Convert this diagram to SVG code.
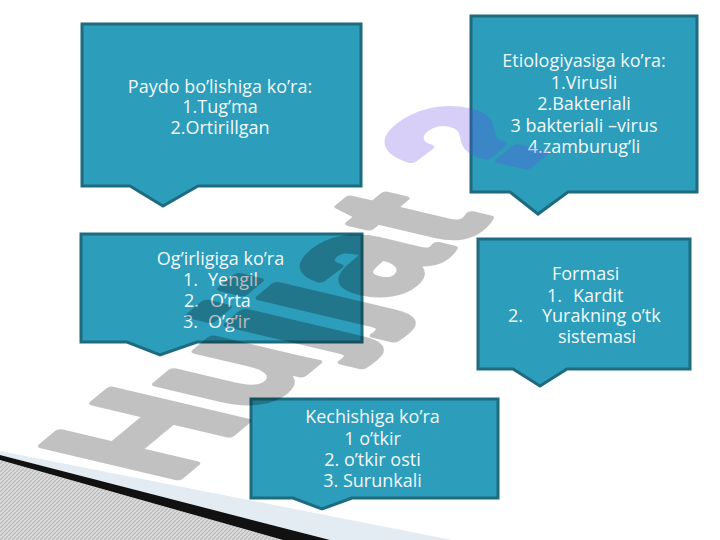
<svg xmlns="http://www.w3.org/2000/svg" width="720" height="540" viewBox="0 0 720 540">
  <defs>
    <pattern id="hatch" patternUnits="userSpaceOnUse" width="4" height="4">
      <rect width="4" height="4" fill="#dadada"/>
      <path d="M-1,5 L5,-1" stroke="#b9b9b9" stroke-width="1.2"/>
    </pattern>
    <style>
      .box { fill: #2c9dba; stroke: #1e6b7f; stroke-width: 3; stroke-linejoin: miter; }
      .t { font-family: "Open Sans", "Noto Sans", "DejaVu Sans", sans-serif; font-size: 18px; fill: #f2f8fa; }
      .c { text-anchor: middle; }
      .wm { font-family: "Liberation Sans", Arial, sans-serif; font-weight: bold; font-size: 100px; stroke-width: 5; stroke-linejoin: round; }
    </style>
  </defs>
  <rect width="720" height="540" fill="#ffffff"/>

  <!-- slide decoration bottom-left -->
  <g id="decoration">
    <path d="M0,460 L283,540 L0,540 Z" fill="url(#hatch)"/>
    <path d="M0,451 L452,540 L330,540 L0,455 Z" fill="#e2ecf2"/>
    <path d="M0,455 L330,540 L283,540 L0,460 Z" fill="#111111"/>
  </g>

  <g id="connectors"></g>

  <g id="paydo">
    <path class="box" d="M82,24 H361 V186 H198 L163,206 L130,186 H82 Z"/>
    <text class="t c" x="220" y="92.5">Paydo bo’lishiga ko’ra:</text>
    <text class="t c" x="220" y="113">1.Tug’ma</text>
    <text class="t c" x="220" y="133.5">2.Ortirillgan</text>
  </g>

  <g id="etiologiya">
    <path class="box" d="M471,16 H697 V192 H568 L538,214 L510,192 H471 Z"/>
    <text class="t c" x="584" y="67">Etiologiyasiga ko’ra:</text>
    <text class="t c" x="584" y="88.5">1.Virusli</text>
    <text class="t c" x="584" y="110">2.Bakteriali</text>
    <text class="t c" x="584" y="131.5">3 bakteriali –virus</text>
    <text class="t c" x="584" y="153">4.zamburug’li</text>
  </g>

  <g id="ogirligi">
    <path class="box" d="M81,234 H362 V342 H197 L160,355 L127,342 H81 Z"/>
    <text class="t c" x="220.5" y="265">Og’irligiga ko’ra</text>
    <text class="t" x="183" y="286">1.</text><text class="t" x="208" y="286">Yengil</text>
    <text class="t" x="184" y="307">2.</text><text class="t" x="210" y="307">O’rta</text>
    <text class="t" x="183" y="328">3.</text><text class="t" x="208" y="328">O’g’ir</text>
  </g>

  <g id="formasi">
    <path class="box" d="M478,239 H690 V369 H567 L540,386 L513,369 H478 Z"/>
    <text class="t" x="552" y="280">Formasi</text>
    <text class="t" x="547" y="302">1.</text><text class="t" x="573" y="302">Kardit</text>
    <text class="t" x="508" y="322">2.</text><text class="t" x="542" y="322">Yurakning o’tk</text>
    <text class="t" x="558" y="343">sistemasi</text>
  </g>

  <g id="kechishi">
    <path class="box" d="M251,399 H498 V498 H352 L322,509 L293,498 H251 Z"/>
    <text class="t c" x="372.5" y="423">Kechishiga ko’ra</text>
    <text class="t c" x="372.5" y="445">1 o’tkir</text>
    <text class="t c" x="372.5" y="466">2. o’tkir osti</text>
    <text class="t c" x="372.5" y="487">3. Surunkali</text>
  </g>

  <g id="watermark">
    <g opacity="0.24">
      <text class="wm" fill="#000000" stroke="#000000" transform="matrix(1.155,-0.961,1.955,0.461,170.3,483.9)">Hujjat</text>
    </g>
    <g opacity="0.25">
      <text class="wm" fill="#6743eb" stroke="#6743eb" transform="matrix(1.155,-0.961,1.955,0.461,170.3,483.9)" x="304" y="-10">?</text>
    </g>
  </g>
</svg>
